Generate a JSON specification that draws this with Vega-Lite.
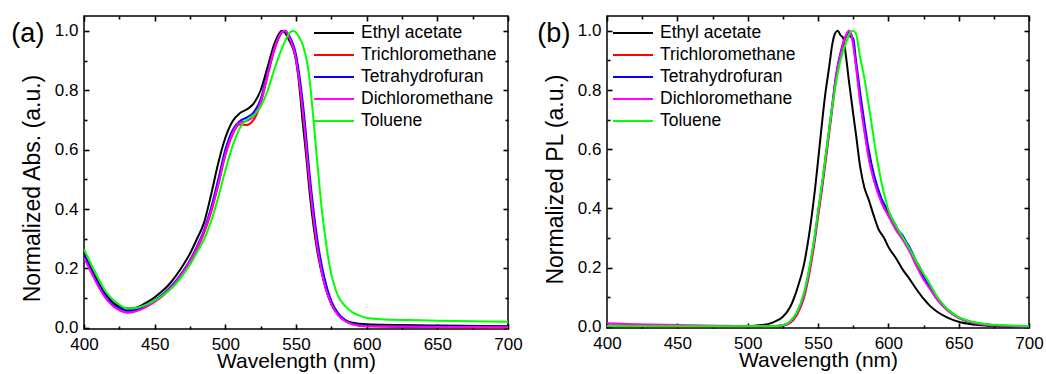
{
  "$schema": "https://vega.github.io/schema/vega-lite/v6.json",
  "padding": {"left": 10, "top": 14, "right": 5, "bottom": 3},
  "background": "white",
  "config": {
    "font": "Liberation Sans",
    "view": {"stroke": "#000", "strokeWidth": 1.5},
    "axis": {"grid": false, "domain": false, "ticks": true, "labelFont": "Liberation Sans", "titleFont": "Liberation Sans", "labelColor": "#000", "titleColor": "#000", "tickColor": "#000", "tickOpacity": 1, "titleFontWeight": "normal", "labelFontSize": 17, "tickWidth": 1.6, "labelFlush": false, "labelOverlap": false, "zindex": 1},
    "legend": {"title": null, "symbolType": "stroke", "symbolSize": 1600, "symbolStrokeWidth": 2, "labelFontSize": 17.5, "labelFont": "Liberation Sans", "labelColor": "#000", "clipHeight": 20, "rowPadding": 2, "labelOffset": 6, "padding": 0},
    "title": {"font": "Liberation Sans", "fontSize": 27, "fontWeight": "normal", "anchor": "start", "frame": "bounds", "orient": "top", "offset": -33, "color": "#000"}
  },
  "datasets": {
    "abs": [
      {"s":"Ethyl acetate","wl":400,"v":0.25},{"s":"Ethyl acetate","wl":405,"v":0.2},{"s":"Ethyl acetate","wl":410,"v":0.155},{"s":"Ethyl acetate","wl":415,"v":0.115},{"s":"Ethyl acetate","wl":420,"v":0.088},{"s":"Ethyl acetate","wl":425,"v":0.072},{"s":"Ethyl acetate","wl":430,"v":0.065},{"s":"Ethyl acetate","wl":435,"v":0.066},{"s":"Ethyl acetate","wl":440,"v":0.074},{"s":"Ethyl acetate","wl":445,"v":0.087},{"s":"Ethyl acetate","wl":450,"v":0.103},{"s":"Ethyl acetate","wl":455,"v":0.122},{"s":"Ethyl acetate","wl":460,"v":0.145},{"s":"Ethyl acetate","wl":465,"v":0.175},{"s":"Ethyl acetate","wl":470,"v":0.21},{"s":"Ethyl acetate","wl":475,"v":0.25},{"s":"Ethyl acetate","wl":480,"v":0.3},{"s":"Ethyl acetate","wl":485,"v":0.355},{"s":"Ethyl acetate","wl":490,"v":0.45},{"s":"Ethyl acetate","wl":495,"v":0.555},{"s":"Ethyl acetate","wl":500,"v":0.64},{"s":"Ethyl acetate","wl":505,"v":0.695},{"s":"Ethyl acetate","wl":510,"v":0.722},{"s":"Ethyl acetate","wl":515,"v":0.735},{"s":"Ethyl acetate","wl":520,"v":0.755},{"s":"Ethyl acetate","wl":525,"v":0.8},{"s":"Ethyl acetate","wl":530,"v":0.88},{"s":"Ethyl acetate","wl":535,"v":0.96},{"s":"Ethyl acetate","wl":540,"v":1.0},{"s":"Ethyl acetate","wl":545,"v":0.97},{"s":"Ethyl acetate","wl":550,"v":0.9},{"s":"Ethyl acetate","wl":552,"v":0.83},{"s":"Ethyl acetate","wl":555,"v":0.68},{"s":"Ethyl acetate","wl":557,"v":0.59},{"s":"Ethyl acetate","wl":560,"v":0.44},{"s":"Ethyl acetate","wl":565,"v":0.26},{"s":"Ethyl acetate","wl":570,"v":0.15},{"s":"Ethyl acetate","wl":575,"v":0.08},{"s":"Ethyl acetate","wl":580,"v":0.045},{"s":"Ethyl acetate","wl":585,"v":0.025},{"s":"Ethyl acetate","wl":590,"v":0.017},{"s":"Ethyl acetate","wl":600,"v":0.012},{"s":"Ethyl acetate","wl":650,"v":0.008},{"s":"Ethyl acetate","wl":700,"v":0.005},
      {"s":"Trichloromethane","wl":400,"v":0.24},{"s":"Trichloromethane","wl":405,"v":0.19},{"s":"Trichloromethane","wl":410,"v":0.142},{"s":"Trichloromethane","wl":415,"v":0.103},{"s":"Trichloromethane","wl":420,"v":0.076},{"s":"Trichloromethane","wl":425,"v":0.06},{"s":"Trichloromethane","wl":430,"v":0.052},{"s":"Trichloromethane","wl":435,"v":0.054},{"s":"Trichloromethane","wl":440,"v":0.062},{"s":"Trichloromethane","wl":445,"v":0.074},{"s":"Trichloromethane","wl":450,"v":0.088},{"s":"Trichloromethane","wl":455,"v":0.105},{"s":"Trichloromethane","wl":460,"v":0.126},{"s":"Trichloromethane","wl":465,"v":0.152},{"s":"Trichloromethane","wl":470,"v":0.183},{"s":"Trichloromethane","wl":475,"v":0.22},{"s":"Trichloromethane","wl":480,"v":0.265},{"s":"Trichloromethane","wl":485,"v":0.32},{"s":"Trichloromethane","wl":490,"v":0.39},{"s":"Trichloromethane","wl":495,"v":0.48},{"s":"Trichloromethane","wl":500,"v":0.58},{"s":"Trichloromethane","wl":505,"v":0.65},{"s":"Trichloromethane","wl":510,"v":0.685},{"s":"Trichloromethane","wl":515,"v":0.683},{"s":"Trichloromethane","wl":520,"v":0.7},{"s":"Trichloromethane","wl":525,"v":0.755},{"s":"Trichloromethane","wl":530,"v":0.85},{"s":"Trichloromethane","wl":535,"v":0.94},{"s":"Trichloromethane","wl":540,"v":0.995},{"s":"Trichloromethane","wl":542,"v":1.0},{"s":"Trichloromethane","wl":545,"v":0.98},{"s":"Trichloromethane","wl":550,"v":0.91},{"s":"Trichloromethane","wl":555,"v":0.73},{"s":"Trichloromethane","wl":560,"v":0.48},{"s":"Trichloromethane","wl":565,"v":0.28},{"s":"Trichloromethane","wl":570,"v":0.155},{"s":"Trichloromethane","wl":575,"v":0.08},{"s":"Trichloromethane","wl":580,"v":0.042},{"s":"Trichloromethane","wl":585,"v":0.022},{"s":"Trichloromethane","wl":590,"v":0.012},{"s":"Trichloromethane","wl":600,"v":0.005},{"s":"Trichloromethane","wl":650,"v":0.002},{"s":"Trichloromethane","wl":700,"v":0.001},
      {"s":"Tetrahydrofuran","wl":400,"v":0.245},{"s":"Tetrahydrofuran","wl":405,"v":0.195},{"s":"Tetrahydrofuran","wl":410,"v":0.15},{"s":"Tetrahydrofuran","wl":415,"v":0.11},{"s":"Tetrahydrofuran","wl":420,"v":0.082},{"s":"Tetrahydrofuran","wl":425,"v":0.066},{"s":"Tetrahydrofuran","wl":430,"v":0.058},{"s":"Tetrahydrofuran","wl":435,"v":0.059},{"s":"Tetrahydrofuran","wl":440,"v":0.066},{"s":"Tetrahydrofuran","wl":445,"v":0.078},{"s":"Tetrahydrofuran","wl":450,"v":0.093},{"s":"Tetrahydrofuran","wl":455,"v":0.11},{"s":"Tetrahydrofuran","wl":460,"v":0.132},{"s":"Tetrahydrofuran","wl":465,"v":0.158},{"s":"Tetrahydrofuran","wl":470,"v":0.19},{"s":"Tetrahydrofuran","wl":475,"v":0.228},{"s":"Tetrahydrofuran","wl":480,"v":0.275},{"s":"Tetrahydrofuran","wl":485,"v":0.33},{"s":"Tetrahydrofuran","wl":490,"v":0.405},{"s":"Tetrahydrofuran","wl":495,"v":0.5},{"s":"Tetrahydrofuran","wl":500,"v":0.6},{"s":"Tetrahydrofuran","wl":505,"v":0.665},{"s":"Tetrahydrofuran","wl":510,"v":0.695},{"s":"Tetrahydrofuran","wl":515,"v":0.708},{"s":"Tetrahydrofuran","wl":520,"v":0.725},{"s":"Tetrahydrofuran","wl":525,"v":0.77},{"s":"Tetrahydrofuran","wl":530,"v":0.86},{"s":"Tetrahydrofuran","wl":535,"v":0.945},{"s":"Tetrahydrofuran","wl":540,"v":0.995},{"s":"Tetrahydrofuran","wl":542,"v":1.0},{"s":"Tetrahydrofuran","wl":545,"v":0.985},{"s":"Tetrahydrofuran","wl":550,"v":0.92},{"s":"Tetrahydrofuran","wl":555,"v":0.75},{"s":"Tetrahydrofuran","wl":560,"v":0.5},{"s":"Tetrahydrofuran","wl":565,"v":0.3},{"s":"Tetrahydrofuran","wl":570,"v":0.17},{"s":"Tetrahydrofuran","wl":575,"v":0.09},{"s":"Tetrahydrofuran","wl":580,"v":0.048},{"s":"Tetrahydrofuran","wl":585,"v":0.025},{"s":"Tetrahydrofuran","wl":590,"v":0.014},{"s":"Tetrahydrofuran","wl":600,"v":0.007},{"s":"Tetrahydrofuran","wl":650,"v":0.004},{"s":"Tetrahydrofuran","wl":700,"v":0.003},
      {"s":"Dichloromethane","wl":400,"v":0.235},{"s":"Dichloromethane","wl":405,"v":0.188},{"s":"Dichloromethane","wl":410,"v":0.142},{"s":"Dichloromethane","wl":415,"v":0.103},{"s":"Dichloromethane","wl":420,"v":0.076},{"s":"Dichloromethane","wl":425,"v":0.06},{"s":"Dichloromethane","wl":430,"v":0.051},{"s":"Dichloromethane","wl":435,"v":0.053},{"s":"Dichloromethane","wl":440,"v":0.061},{"s":"Dichloromethane","wl":445,"v":0.073},{"s":"Dichloromethane","wl":450,"v":0.088},{"s":"Dichloromethane","wl":455,"v":0.106},{"s":"Dichloromethane","wl":460,"v":0.128},{"s":"Dichloromethane","wl":465,"v":0.155},{"s":"Dichloromethane","wl":470,"v":0.187},{"s":"Dichloromethane","wl":475,"v":0.225},{"s":"Dichloromethane","wl":480,"v":0.27},{"s":"Dichloromethane","wl":485,"v":0.325},{"s":"Dichloromethane","wl":490,"v":0.395},{"s":"Dichloromethane","wl":495,"v":0.485},{"s":"Dichloromethane","wl":500,"v":0.585},{"s":"Dichloromethane","wl":505,"v":0.655},{"s":"Dichloromethane","wl":510,"v":0.69},{"s":"Dichloromethane","wl":515,"v":0.697},{"s":"Dichloromethane","wl":520,"v":0.712},{"s":"Dichloromethane","wl":525,"v":0.76},{"s":"Dichloromethane","wl":530,"v":0.855},{"s":"Dichloromethane","wl":535,"v":0.945},{"s":"Dichloromethane","wl":540,"v":0.995},{"s":"Dichloromethane","wl":542,"v":1.0},{"s":"Dichloromethane","wl":545,"v":0.98},{"s":"Dichloromethane","wl":550,"v":0.905},{"s":"Dichloromethane","wl":555,"v":0.72},{"s":"Dichloromethane","wl":560,"v":0.47},{"s":"Dichloromethane","wl":565,"v":0.275},{"s":"Dichloromethane","wl":570,"v":0.15},{"s":"Dichloromethane","wl":575,"v":0.08},{"s":"Dichloromethane","wl":580,"v":0.042},{"s":"Dichloromethane","wl":585,"v":0.022},{"s":"Dichloromethane","wl":590,"v":0.012},{"s":"Dichloromethane","wl":600,"v":0.005},{"s":"Dichloromethane","wl":650,"v":0.003},{"s":"Dichloromethane","wl":700,"v":0.002},
      {"s":"Toluene","wl":400,"v":0.265},{"s":"Toluene","wl":405,"v":0.215},{"s":"Toluene","wl":410,"v":0.168},{"s":"Toluene","wl":415,"v":0.125},{"s":"Toluene","wl":420,"v":0.097},{"s":"Toluene","wl":425,"v":0.078},{"s":"Toluene","wl":430,"v":0.066},{"s":"Toluene","wl":435,"v":0.066},{"s":"Toluene","wl":440,"v":0.071},{"s":"Toluene","wl":445,"v":0.08},{"s":"Toluene","wl":450,"v":0.092},{"s":"Toluene","wl":455,"v":0.107},{"s":"Toluene","wl":460,"v":0.125},{"s":"Toluene","wl":465,"v":0.148},{"s":"Toluene","wl":470,"v":0.178},{"s":"Toluene","wl":475,"v":0.213},{"s":"Toluene","wl":480,"v":0.255},{"s":"Toluene","wl":485,"v":0.298},{"s":"Toluene","wl":490,"v":0.36},{"s":"Toluene","wl":495,"v":0.44},{"s":"Toluene","wl":500,"v":0.53},{"s":"Toluene","wl":505,"v":0.61},{"s":"Toluene","wl":510,"v":0.67},{"s":"Toluene","wl":515,"v":0.7},{"s":"Toluene","wl":520,"v":0.715},{"s":"Toluene","wl":525,"v":0.745},{"s":"Toluene","wl":530,"v":0.8},{"s":"Toluene","wl":535,"v":0.875},{"s":"Toluene","wl":540,"v":0.94},{"s":"Toluene","wl":545,"v":0.99},{"s":"Toluene","wl":548,"v":1.0},{"s":"Toluene","wl":552,"v":0.98},{"s":"Toluene","wl":555,"v":0.95},{"s":"Toluene","wl":558,"v":0.89},{"s":"Toluene","wl":560,"v":0.82},{"s":"Toluene","wl":562,"v":0.72},{"s":"Toluene","wl":565,"v":0.56},{"s":"Toluene","wl":568,"v":0.41},{"s":"Toluene","wl":570,"v":0.33},{"s":"Toluene","wl":573,"v":0.23},{"s":"Toluene","wl":575,"v":0.18},{"s":"Toluene","wl":578,"v":0.13},{"s":"Toluene","wl":580,"v":0.105},{"s":"Toluene","wl":585,"v":0.072},{"s":"Toluene","wl":590,"v":0.052},{"s":"Toluene","wl":595,"v":0.041},{"s":"Toluene","wl":600,"v":0.034},{"s":"Toluene","wl":610,"v":0.029},{"s":"Toluene","wl":630,"v":0.026},{"s":"Toluene","wl":650,"v":0.024},{"s":"Toluene","wl":700,"v":0.02}
    ],
    "pl": [
      {"s":"Ethyl acetate","wl":400,"v":0.004},{"s":"Ethyl acetate","wl":450,"v":0.003},{"s":"Ethyl acetate","wl":500,"v":0.003},{"s":"Ethyl acetate","wl":505,"v":0.004},{"s":"Ethyl acetate","wl":510,"v":0.006},{"s":"Ethyl acetate","wl":515,"v":0.01},{"s":"Ethyl acetate","wl":520,"v":0.019},{"s":"Ethyl acetate","wl":525,"v":0.034},{"s":"Ethyl acetate","wl":530,"v":0.065},{"s":"Ethyl acetate","wl":535,"v":0.125},{"s":"Ethyl acetate","wl":540,"v":0.21},{"s":"Ethyl acetate","wl":545,"v":0.355},{"s":"Ethyl acetate","wl":548,"v":0.47},{"s":"Ethyl acetate","wl":550,"v":0.56},{"s":"Ethyl acetate","wl":552,"v":0.65},{"s":"Ethyl acetate","wl":555,"v":0.78},{"s":"Ethyl acetate","wl":558,"v":0.88},{"s":"Ethyl acetate","wl":560,"v":0.95},{"s":"Ethyl acetate","wl":562,"v":0.99},{"s":"Ethyl acetate","wl":564,"v":1.0},{"s":"Ethyl acetate","wl":566,"v":0.985},{"s":"Ethyl acetate","wl":568,"v":0.975},{"s":"Ethyl acetate","wl":570,"v":0.91},{"s":"Ethyl acetate","wl":572,"v":0.83},{"s":"Ethyl acetate","wl":575,"v":0.72},{"s":"Ethyl acetate","wl":577,"v":0.65},{"s":"Ethyl acetate","wl":580,"v":0.54},{"s":"Ethyl acetate","wl":583,"v":0.47},{"s":"Ethyl acetate","wl":586,"v":0.43},{"s":"Ethyl acetate","wl":590,"v":0.37},{"s":"Ethyl acetate","wl":593,"v":0.33},{"s":"Ethyl acetate","wl":597,"v":0.3},{"s":"Ethyl acetate","wl":600,"v":0.27},{"s":"Ethyl acetate","wl":605,"v":0.235},{"s":"Ethyl acetate","wl":610,"v":0.195},{"s":"Ethyl acetate","wl":615,"v":0.162},{"s":"Ethyl acetate","wl":620,"v":0.127},{"s":"Ethyl acetate","wl":625,"v":0.095},{"s":"Ethyl acetate","wl":630,"v":0.069},{"s":"Ethyl acetate","wl":635,"v":0.05},{"s":"Ethyl acetate","wl":640,"v":0.036},{"s":"Ethyl acetate","wl":645,"v":0.025},{"s":"Ethyl acetate","wl":650,"v":0.017},{"s":"Ethyl acetate","wl":660,"v":0.008},{"s":"Ethyl acetate","wl":670,"v":0.004},{"s":"Ethyl acetate","wl":680,"v":0.002},{"s":"Ethyl acetate","wl":700,"v":0.001},
      {"s":"Trichloromethane","wl":400,"v":0.002},{"s":"Trichloromethane","wl":450,"v":0.001},{"s":"Trichloromethane","wl":500,"v":0.001},{"s":"Trichloromethane","wl":520,"v":0.002},{"s":"Trichloromethane","wl":525,"v":0.004},{"s":"Trichloromethane","wl":530,"v":0.012},{"s":"Trichloromethane","wl":535,"v":0.04},{"s":"Trichloromethane","wl":540,"v":0.097},{"s":"Trichloromethane","wl":545,"v":0.21},{"s":"Trichloromethane","wl":548,"v":0.3},{"s":"Trichloromethane","wl":550,"v":0.37},{"s":"Trichloromethane","wl":553,"v":0.47},{"s":"Trichloromethane","wl":556,"v":0.58},{"s":"Trichloromethane","wl":560,"v":0.73},{"s":"Trichloromethane","wl":563,"v":0.84},{"s":"Trichloromethane","wl":567,"v":0.935},{"s":"Trichloromethane","wl":570,"v":0.98},{"s":"Trichloromethane","wl":572,"v":1.0},{"s":"Trichloromethane","wl":574,"v":0.985},{"s":"Trichloromethane","wl":577,"v":0.885},{"s":"Trichloromethane","wl":580,"v":0.765},{"s":"Trichloromethane","wl":583,"v":0.665},{"s":"Trichloromethane","wl":586,"v":0.575},{"s":"Trichloromethane","wl":590,"v":0.495},{"s":"Trichloromethane","wl":595,"v":0.425},{"s":"Trichloromethane","wl":600,"v":0.38},{"s":"Trichloromethane","wl":605,"v":0.335},{"s":"Trichloromethane","wl":610,"v":0.3},{"s":"Trichloromethane","wl":615,"v":0.26},{"s":"Trichloromethane","wl":620,"v":0.21},{"s":"Trichloromethane","wl":625,"v":0.165},{"s":"Trichloromethane","wl":630,"v":0.128},{"s":"Trichloromethane","wl":635,"v":0.092},{"s":"Trichloromethane","wl":640,"v":0.065},{"s":"Trichloromethane","wl":645,"v":0.045},{"s":"Trichloromethane","wl":650,"v":0.03},{"s":"Trichloromethane","wl":660,"v":0.014},{"s":"Trichloromethane","wl":670,"v":0.007},{"s":"Trichloromethane","wl":680,"v":0.004},{"s":"Trichloromethane","wl":690,"v":0.002},{"s":"Trichloromethane","wl":700,"v":0.001},
      {"s":"Tetrahydrofuran","wl":400,"v":0.004},{"s":"Tetrahydrofuran","wl":450,"v":0.003},{"s":"Tetrahydrofuran","wl":500,"v":0.002},{"s":"Tetrahydrofuran","wl":520,"v":0.003},{"s":"Tetrahydrofuran","wl":525,"v":0.005},{"s":"Tetrahydrofuran","wl":530,"v":0.016},{"s":"Tetrahydrofuran","wl":535,"v":0.047},{"s":"Tetrahydrofuran","wl":540,"v":0.108},{"s":"Tetrahydrofuran","wl":545,"v":0.225},{"s":"Tetrahydrofuran","wl":548,"v":0.315},{"s":"Tetrahydrofuran","wl":550,"v":0.385},{"s":"Tetrahydrofuran","wl":553,"v":0.485},{"s":"Tetrahydrofuran","wl":556,"v":0.595},{"s":"Tetrahydrofuran","wl":560,"v":0.745},{"s":"Tetrahydrofuran","wl":563,"v":0.855},{"s":"Tetrahydrofuran","wl":567,"v":0.945},{"s":"Tetrahydrofuran","wl":570,"v":0.985},{"s":"Tetrahydrofuran","wl":572,"v":0.995},{"s":"Tetrahydrofuran","wl":573,"v":0.98},{"s":"Tetrahydrofuran","wl":575,"v":0.975},{"s":"Tetrahydrofuran","wl":577,"v":0.9},{"s":"Tetrahydrofuran","wl":580,"v":0.79},{"s":"Tetrahydrofuran","wl":583,"v":0.69},{"s":"Tetrahydrofuran","wl":586,"v":0.6},{"s":"Tetrahydrofuran","wl":590,"v":0.51},{"s":"Tetrahydrofuran","wl":595,"v":0.435},{"s":"Tetrahydrofuran","wl":600,"v":0.39},{"s":"Tetrahydrofuran","wl":605,"v":0.345},{"s":"Tetrahydrofuran","wl":608,"v":0.32},{"s":"Tetrahydrofuran","wl":610,"v":0.31},{"s":"Tetrahydrofuran","wl":613,"v":0.285},{"s":"Tetrahydrofuran","wl":615,"v":0.27},{"s":"Tetrahydrofuran","wl":620,"v":0.22},{"s":"Tetrahydrofuran","wl":623,"v":0.195},{"s":"Tetrahydrofuran","wl":625,"v":0.17},{"s":"Tetrahydrofuran","wl":630,"v":0.133},{"s":"Tetrahydrofuran","wl":635,"v":0.096},{"s":"Tetrahydrofuran","wl":640,"v":0.068},{"s":"Tetrahydrofuran","wl":645,"v":0.047},{"s":"Tetrahydrofuran","wl":650,"v":0.032},{"s":"Tetrahydrofuran","wl":660,"v":0.015},{"s":"Tetrahydrofuran","wl":670,"v":0.008},{"s":"Tetrahydrofuran","wl":680,"v":0.004},{"s":"Tetrahydrofuran","wl":690,"v":0.002},{"s":"Tetrahydrofuran","wl":700,"v":0.001},
      {"s":"Dichloromethane","wl":400,"v":0.012},{"s":"Dichloromethane","wl":420,"v":0.009},{"s":"Dichloromethane","wl":450,"v":0.006},{"s":"Dichloromethane","wl":480,"v":0.004},{"s":"Dichloromethane","wl":500,"v":0.003},{"s":"Dichloromethane","wl":510,"v":0.003},{"s":"Dichloromethane","wl":520,"v":0.003},{"s":"Dichloromethane","wl":525,"v":0.005},{"s":"Dichloromethane","wl":530,"v":0.015},{"s":"Dichloromethane","wl":535,"v":0.045},{"s":"Dichloromethane","wl":540,"v":0.105},{"s":"Dichloromethane","wl":545,"v":0.22},{"s":"Dichloromethane","wl":548,"v":0.31},{"s":"Dichloromethane","wl":550,"v":0.38},{"s":"Dichloromethane","wl":553,"v":0.48},{"s":"Dichloromethane","wl":556,"v":0.59},{"s":"Dichloromethane","wl":560,"v":0.74},{"s":"Dichloromethane","wl":563,"v":0.85},{"s":"Dichloromethane","wl":567,"v":0.94},{"s":"Dichloromethane","wl":570,"v":0.985},{"s":"Dichloromethane","wl":572,"v":1.0},{"s":"Dichloromethane","wl":574,"v":0.98},{"s":"Dichloromethane","wl":577,"v":0.88},{"s":"Dichloromethane","wl":580,"v":0.76},{"s":"Dichloromethane","wl":583,"v":0.66},{"s":"Dichloromethane","wl":586,"v":0.57},{"s":"Dichloromethane","wl":590,"v":0.49},{"s":"Dichloromethane","wl":595,"v":0.42},{"s":"Dichloromethane","wl":600,"v":0.375},{"s":"Dichloromethane","wl":605,"v":0.33},{"s":"Dichloromethane","wl":610,"v":0.295},{"s":"Dichloromethane","wl":615,"v":0.255},{"s":"Dichloromethane","wl":620,"v":0.205},{"s":"Dichloromethane","wl":625,"v":0.16},{"s":"Dichloromethane","wl":630,"v":0.125},{"s":"Dichloromethane","wl":635,"v":0.09},{"s":"Dichloromethane","wl":640,"v":0.064},{"s":"Dichloromethane","wl":645,"v":0.044},{"s":"Dichloromethane","wl":650,"v":0.03},{"s":"Dichloromethane","wl":660,"v":0.014},{"s":"Dichloromethane","wl":670,"v":0.007},{"s":"Dichloromethane","wl":680,"v":0.004},{"s":"Dichloromethane","wl":690,"v":0.002},{"s":"Dichloromethane","wl":700,"v":0.001},
      {"s":"Toluene","wl":400,"v":0.003},{"s":"Toluene","wl":500,"v":0.002},{"s":"Toluene","wl":520,"v":0.003},{"s":"Toluene","wl":525,"v":0.006},{"s":"Toluene","wl":530,"v":0.018},{"s":"Toluene","wl":535,"v":0.05},{"s":"Toluene","wl":540,"v":0.115},{"s":"Toluene","wl":545,"v":0.23},{"s":"Toluene","wl":548,"v":0.32},{"s":"Toluene","wl":550,"v":0.39},{"s":"Toluene","wl":553,"v":0.49},{"s":"Toluene","wl":556,"v":0.6},{"s":"Toluene","wl":560,"v":0.74},{"s":"Toluene","wl":563,"v":0.83},{"s":"Toluene","wl":566,"v":0.9},{"s":"Toluene","wl":570,"v":0.96},{"s":"Toluene","wl":573,"v":0.995},{"s":"Toluene","wl":575,"v":1.0},{"s":"Toluene","wl":577,"v":0.99},{"s":"Toluene","wl":580,"v":0.91},{"s":"Toluene","wl":583,"v":0.84},{"s":"Toluene","wl":585,"v":0.78},{"s":"Toluene","wl":588,"v":0.69},{"s":"Toluene","wl":590,"v":0.625},{"s":"Toluene","wl":593,"v":0.54},{"s":"Toluene","wl":595,"v":0.49},{"s":"Toluene","wl":598,"v":0.43},{"s":"Toluene","wl":600,"v":0.395},{"s":"Toluene","wl":605,"v":0.345},{"s":"Toluene","wl":610,"v":0.305},{"s":"Toluene","wl":615,"v":0.265},{"s":"Toluene","wl":620,"v":0.22},{"s":"Toluene","wl":625,"v":0.18},{"s":"Toluene","wl":630,"v":0.14},{"s":"Toluene","wl":635,"v":0.1},{"s":"Toluene","wl":640,"v":0.07},{"s":"Toluene","wl":645,"v":0.048},{"s":"Toluene","wl":650,"v":0.033},{"s":"Toluene","wl":660,"v":0.017},{"s":"Toluene","wl":670,"v":0.009},{"s":"Toluene","wl":680,"v":0.006},{"s":"Toluene","wl":690,"v":0.004},{"s":"Toluene","wl":700,"v":0.003}
    ]
  },
  "spacing": 99,
  "bounds": "flush",
  "resolve": {"scale": {"color": "independent", "strokeWidth": "independent"}, "legend": {"color": "independent", "strokeWidth": "independent"}},
  "hconcat": [
    {
      "width": 424, "height": 313,
      "data": {"name": "abs"},
      "title": {"text": "(a)", "dx": -10},
      "resolve": {"axis": {"x": "independent", "y": "independent"}},
      "layer": [
        {
          "mark": {"type": "line", "strokeWidth": 2, "interpolate": "monotone", "clip": true},
          "encoding": {
            "x": {"field": "wl", "type": "quantitative", "scale": {"domain": [400, 700], "nice": false, "zero": false},
                  "axis": {"orient": "bottom", "values": [400, 450, 500, 550, 600, 650, 700], "tickSize": -5, "labelPadding": 12, "title": "Wavelength (nm)", "titleFontSize": 21, "titlePadding": -2}},
            "y": {"field": "v", "type": "quantitative", "scale": {"domain": [-0.004, 1.05], "nice": false, "zero": false},
                  "axis": {"orient": "left", "values": [0, 0.2, 0.4, 0.6, 0.8, 1.0], "format": ".1f", "tickSize": -5, "labelPadding": 11, "title": "Normalized Abs. (a.u.)", "titleFontSize": 23, "titlePadding": 10, "titleY": 172}},
            "color": {"field": "s", "type": "nominal", "sort": null,
                      "scale": {"domain": ["Ethyl acetate", "Trichloromethane", "Tetrahydrofuran", "Dichloromethane", "Toluene"], "range": ["#000000", "#ff0000", "#0000ff", "#ff00ff", "#00ff00"]},
                      "legend": {"orient": "none", "legendX": 229, "legendY": 7}}
          }
        },
        {
          "mark": {"type": "point", "opacity": 0},
          "encoding": {
            "x": {"field": "wl", "type": "quantitative", "axis": {"orient": "bottom", "values": [425, 475, 525, 575, 625, 675], "tickSize": -3, "labels": false, "title": null}},
            "y": {"field": "v", "type": "quantitative", "axis": {"orient": "left", "values": [0.1, 0.3, 0.5, 0.7, 0.9], "tickSize": -3, "labels": false, "title": null}}
          }
        },
        {
          "mark": {"type": "point", "opacity": 0},
          "encoding": {
            "x": {"field": "wl", "type": "quantitative", "axis": {"orient": "top", "values": [400, 450, 500, 550, 600, 650, 700], "tickSize": -5, "labels": false, "title": null}},
            "y": {"field": "v", "type": "quantitative", "axis": {"orient": "right", "values": [0, 0.2, 0.4, 0.6, 0.8, 1.0], "tickSize": -5, "labels": false, "title": null}}
          }
        },
        {
          "mark": {"type": "point", "opacity": 0},
          "encoding": {
            "x": {"field": "wl", "type": "quantitative", "axis": {"orient": "top", "values": [425, 475, 525, 575, 625, 675], "tickSize": -3, "labels": false, "title": null}},
            "y": {"field": "v", "type": "quantitative", "axis": {"orient": "right", "values": [0.1, 0.3, 0.5, 0.7, 0.9], "tickSize": -3, "labels": false, "title": null}}
          }
        }
      ]
    },
    {
      "width": 422, "height": 312,
      "data": {"name": "pl"},
      "title": {"text": "(b)", "dx": -7},
      "resolve": {"axis": {"x": "independent", "y": "independent"}},
      "layer": [
        {
          "mark": {"type": "line", "interpolate": "monotone", "clip": true},
          "encoding": {
            "x": {"field": "wl", "type": "quantitative", "scale": {"domain": [400, 700], "nice": false, "zero": false},
                  "axis": {"orient": "bottom", "values": [400, 450, 500, 550, 600, 650, 700], "tickSize": -5, "labelPadding": 12, "title": "Wavelength (nm)", "titleFontSize": 21, "titlePadding": -2}},
            "y": {"field": "v", "type": "quantitative", "scale": {"domain": [-0.004, 1.05], "nice": false, "zero": false},
                  "axis": {"orient": "left", "values": [0, 0.2, 0.4, 0.6, 0.8, 1.0], "format": ".1f", "tickSize": -5, "labelPadding": 11, "title": "Normalized PL (a.u.)", "titleFontSize": 23, "titlePadding": 10, "titleY": 163}},
            "color": {"field": "s", "type": "nominal", "sort": null,
                      "scale": {"domain": ["Ethyl acetate", "Trichloromethane", "Tetrahydrofuran", "Dichloromethane", "Toluene"], "range": ["#000000", "#ff0000", "#0000ff", "#ff00ff", "#00ff00"]},
                      "legend": {"orient": "none", "legendX": 5, "legendY": 7}},
            "strokeWidth": {"field": "s", "type": "nominal", "sort": null,
                      "scale": {"domain": ["Ethyl acetate", "Trichloromethane", "Tetrahydrofuran", "Dichloromethane", "Toluene"], "range": [2, 2, 2, 2, 1.2]},
                      "legend": {"orient": "none", "legendX": 5, "legendY": 7}}
          }
        },
        {
          "mark": {"type": "point", "opacity": 0},
          "encoding": {
            "x": {"field": "wl", "type": "quantitative", "axis": {"orient": "bottom", "values": [425, 475, 525, 575, 625, 675], "tickSize": -3, "labels": false, "title": null}},
            "y": {"field": "v", "type": "quantitative", "axis": {"orient": "left", "values": [0.1, 0.3, 0.5, 0.7, 0.9], "tickSize": -3, "labels": false, "title": null}}
          }
        },
        {
          "mark": {"type": "point", "opacity": 0},
          "encoding": {
            "x": {"field": "wl", "type": "quantitative", "axis": {"orient": "top", "values": [400, 450, 500, 550, 600, 650, 700], "tickSize": -5, "labels": false, "title": null}},
            "y": {"field": "v", "type": "quantitative", "axis": {"orient": "right", "values": [0, 0.2, 0.4, 0.6, 0.8, 1.0], "tickSize": -5, "labels": false, "title": null}}
          }
        },
        {
          "mark": {"type": "point", "opacity": 0},
          "encoding": {
            "x": {"field": "wl", "type": "quantitative", "axis": {"orient": "top", "values": [425, 475, 525, 575, 625, 675], "tickSize": -3, "labels": false, "title": null}},
            "y": {"field": "v", "type": "quantitative", "axis": {"orient": "right", "values": [0.1, 0.3, 0.5, 0.7, 0.9], "tickSize": -3, "labels": false, "title": null}}
          }
        }
      ]
    }
  ]
}
